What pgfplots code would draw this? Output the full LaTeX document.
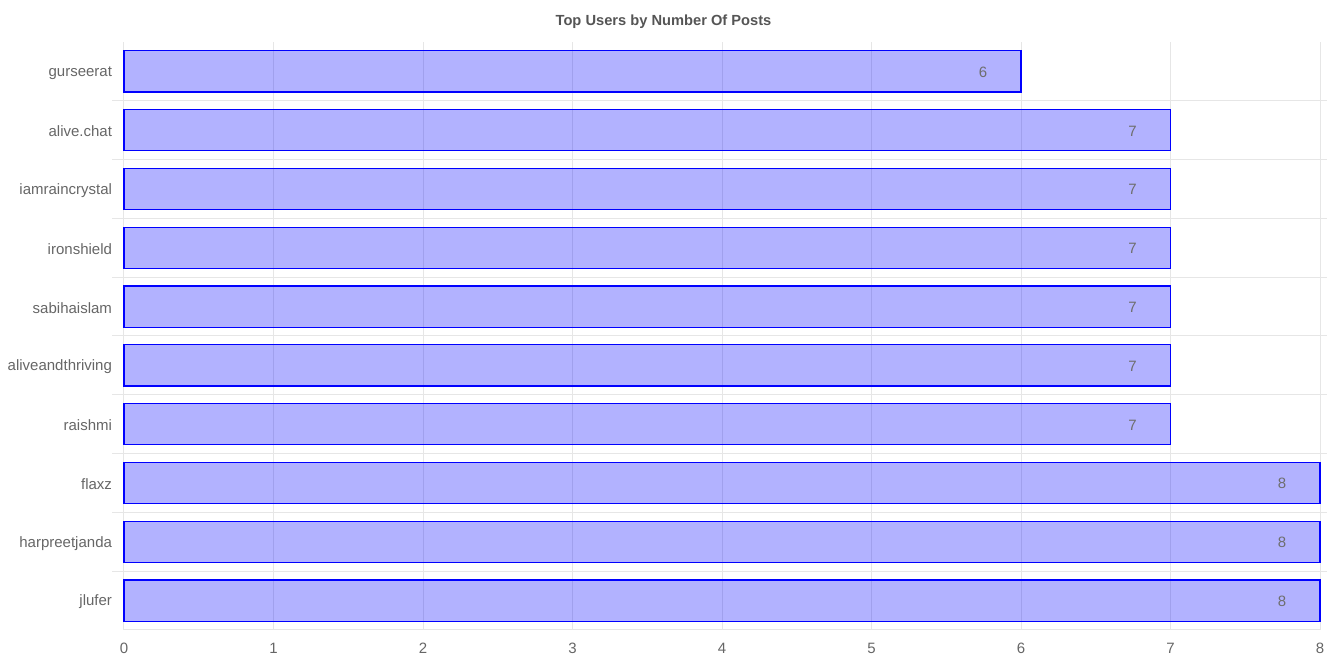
\documentclass[border=0pt]{standalone}
\usepackage{pgfplots}
\pgfplotsset{compat=1.18}
\usepackage{fontspec}
\setmainfont{Liberation Sans}
\definecolor{gridc}{RGB}{230,230,230}
\definecolor{tickc}{RGB}{102,102,102}
\definecolor{valc}{RGB}{110,110,110}
\definecolor{titc}{RGB}{85,85,85}
\definecolor{barc}{RGB}{0,0,255}
\pgfplotstableread{
y val
0 8
1 8
2 8
3 7
4 7
5 7
6 7
7 7
8 7
9 6
}\datatable
\begin{document}
\begin{tikzpicture}
\useasboundingbox (-93pt,-24.75pt) rectangle (902.25pt,472.5pt);
\begin{axis}[
  at={(0pt,0pt)}, anchor=south west,
  scale only axis, width=897pt, height=441pt,
  xmin=0, xmax=8, ymin=-0.5, ymax=9.5,
  xtick={0,1,...,8},
  ytick={0,1,...,9},
  yticklabels={jlufer,harpreetjanda,flaxz,raishmi,aliveandthriving,sabihaislam,ironshield,iamraincrystal,alive.chat,gurseerat},
  minor ytick={0.5,1.5,...,8.5},
  xmajorgrids, yminorgrids,
  grid style={gridc, line width=0.75pt},
  minor grid style={gridc, line width=0.75pt},
  axis line style={draw=none},
  tick align=outside,
  major tick length=0pt,
  minor tick length=9pt,
  minor tick style={gridc, line width=0.75pt},
  ticklabel style={font=\fontsize{11.25}{13}\selectfont, text=tickc},
  yticklabel style={xshift=-5.5pt, yshift=-1pt},
  xticklabel style={yshift=-6pt},
  /pgf/number format/assume math mode=true,
  clip=false,
  xbar, bar width=0.7,
  nodes near coords,
  every node near coord/.append style={anchor=center, xshift=-28.5pt, yshift=-0.5pt, font=\fontsize{11.25}{13}\selectfont, text=valc, fill opacity=1, text opacity=1, opacity=1},
]
\addplot[draw=barc, fill=barc, fill opacity=0.3, line width=0.95pt] table[x=val, y=y] {\datatable};
\draw[gridc, line width=0.75pt] (axis cs:0,-0.5) -- (axis cs:8,-0.5);
\end{axis}
\node[font=\bfseries\fontsize{11}{13}\selectfont, text=titc] at (404.625pt,456pt) {Top Users by Number Of Posts};
\end{tikzpicture}
\end{document}
